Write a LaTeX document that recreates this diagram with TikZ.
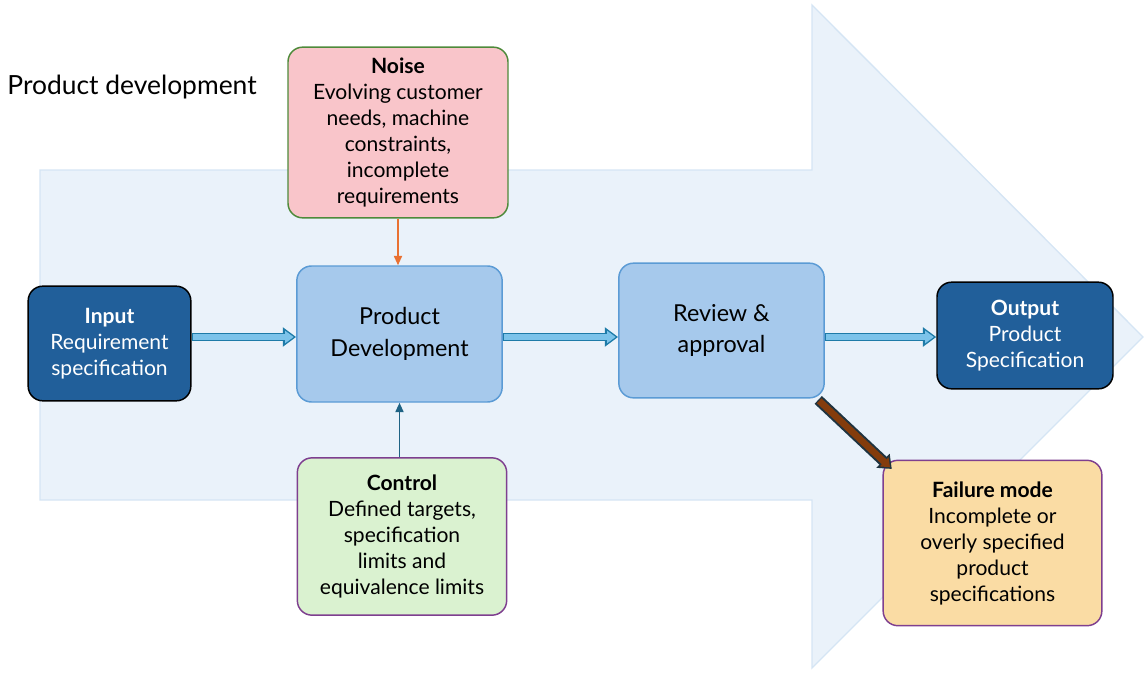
\documentclass[tikz,border=0pt]{standalone}
\usepackage{fontspec}
\setmainfont{Lato}
\usetikzlibrary{arrows.meta}

\definecolor{bigfill}{HTML}{EAF2FA}
\definecolor{bigedge}{HTML}{D5E5F4}
\definecolor{darkfill}{HTML}{215F9A}
\definecolor{procfill}{HTML}{A6C9EC}
\definecolor{procedge}{HTML}{5B9BD5}
\definecolor{noisefill}{HTML}{F9C5CA}
\definecolor{noiseedge}{HTML}{4E8A3A}
\definecolor{ctrlfill}{HTML}{DAF2D0}
\definecolor{ctrledge}{HTML}{7E3F8F}
\definecolor{failfill}{HTML}{FADCA4}
\definecolor{flowfill}{HTML}{7CC3EA}
\definecolor{flowedge}{HTML}{1E7BA8}
\definecolor{noisearrow}{HTML}{E97132}
\definecolor{ctrlarrow}{HTML}{1F6384}
\definecolor{brownfill}{HTML}{843C0C}
\definecolor{brownedge}{HTML}{1F3440}

\begin{document}
\begin{tikzpicture}[x=0.75pt, y=-0.75pt,
    box/.style={draw, rectangle, rounded corners=11pt, line width=1.1pt, align=center, inner sep=2pt, font=\fontsize{15.8}{19.5}\selectfont},
    darkbox/.style={box, fill=darkfill, draw=black, text=white},
    procbox/.style={box, fill=procfill, draw=procedge, font=\fontsize{17.5}{23.5}\selectfont},
    flow/.style={draw=flowedge, line width=6.5pt, -{Triangle[length=10pt, width=14pt]},
        postaction={draw=flowfill, line width=3.8pt, -{Triangle[length=6.5pt, width=9pt]}, shorten >=1.8pt, shorten <=0.9pt}},
    thinarrow/.style={line width=1.3pt, -{Triangle[length=7pt, width=6pt]}},
    failarrow/.style={draw=brownedge, line width=8pt, -{Triangle[length=9pt, width=14pt]},
        postaction={draw=brownfill, line width=5pt, -{Triangle[length=6pt, width=9pt]}, shorten >=1.8pt, shorten <=1pt}}
]
    \useasboundingbox (0,0) rectangle (1145,675);

    % big background arrow
    \draw[fill=bigfill, draw=bigedge, line width=1pt]
        (40,170) -- (812,170) -- (812,5) -- (1143,337) -- (812,668) -- (812,500) -- (40,500) -- cycle;

    \node[font=\fontsize{19.8}{22}\selectfont] (title) at (132,87) {Product development};

    % main row
    \node[darkbox, minimum width=122pt, minimum height=86pt] (in) at (109.5,343.5) {\textbf{Input}\\Requirement\\specification};
    \node[procbox, minimum width=154pt, minimum height=102pt] (pd) at (399.5,334) {Product\\Development};
    \node[procbox, minimum width=154pt, minimum height=101pt] (rev) at (721.5,330.5) {Review \&\\approval};
    \node[darkbox, minimum width=132pt, minimum height=80pt] (out) at (1025,335.5) {\textbf{Output}\\Product\\Specification};

    % noise, control and failure
    \node[box, fill=noisefill, draw=noiseedge, minimum width=165pt, minimum height=128pt] (noise) at (398,132.5)
        {\textbf{Noise}\\Evolving customer\\needs, machine\\constraints,\\incomplete\\requirements};
    \node[box, fill=ctrlfill, draw=ctrledge, minimum width=157pt, minimum height=118pt] (ctrl) at (402,536.5)
        {\textbf{Control}\\Defined targets,\\specification\\limits and\\equivalence limits};
    \node[box, fill=failfill, draw=ctrledge, minimum width=164pt, minimum height=124pt] (fail) at (992.5,543)
        {\textbf{Failure mode}\\Incomplete or\\overly specified\\product\\specifications};

    % flows
    \coordinate (axis) at (0,337);
    \draw[flow] (in.east |- axis) -- (pd.west |- axis);
    \draw[flow] (pd.east |- axis) -- (rev.west |- axis);
    \draw[flow] (rev.east |- axis) -- (out.west |- axis);

    \draw[thinarrow, draw=noisearrow, fill=noisearrow] (noise.south) -- (noise.south |- pd.north);
    \draw[thinarrow, draw=ctrlarrow, fill=ctrlarrow] (pd.south |- ctrl.north) -- (pd.south);
    \draw[failarrow] ([shift={(-5pt,-1pt)}]rev.south east) -- ([shift={(7pt,-7pt)}]fail.north west);
\end{tikzpicture}
\end{document}
